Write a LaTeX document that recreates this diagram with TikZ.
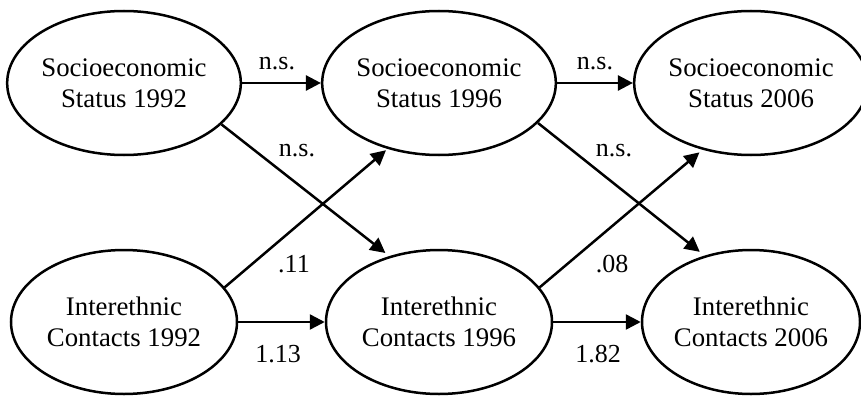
\documentclass[tikz,border=0pt]{standalone}
\usepackage{fontspec}
\setmainfont{Liberation Serif}
\usetikzlibrary{shapes.geometric,arrows.meta}

\tikzset{
  var/.style={ellipse, draw, line width=2.5pt, inner sep=0pt,
    minimum width=226pt, minimum height=144pt, align=center,
    font=\fontsize{26.8}{31}\selectfont},
  varnarrow/.style={var, minimum width=218pt},
  path/.style={line width=2.5pt, -{Triangle[length=15pt,width=15pt]}},
  coef/.style={anchor=base, inner sep=0pt, font=\fontsize{26}{30}\selectfont}
}

\begin{document}
\begin{tikzpicture}[x=1pt, y=-1pt]
  \useasboundingbox (0,0) rectangle (861,396);

  % latent variables: socioeconomic status (top row), interethnic contacts (bottom row)
  \node[var]       (s92) at (124,83)  {Socioeconomic\\Status 1992};
  \node[var]       (s96) at (439,83)  {Socioeconomic\\Status 1996};
  \node[varnarrow] (s06) at (751,83)  {Socioeconomic\\Status 2006};
  \node[var]       (c92) at (124,322) {Interethnic\\Contacts 1992};
  \node[var]       (c96) at (439,322) {Interethnic\\Contacts 1996};
  \node[varnarrow] (c06) at (751,322) {Interethnic\\Contacts 2006};

  % stability paths
  \draw[path] (s92.east) -- (s96.west);
  \draw[path] (s96.east) -- (s06.west);
  \draw[path] (c92.east) -- (c96.west);
  \draw[path] (c96.east) -- (c06.west);

  % cross-lagged paths
  \draw[path, shorten >=5pt] (s92.-23) -- (c96.127.6);
  \draw[path, shorten >=2pt] (c92.19.3) -- (s96.-128.9);
  \draw[path, shorten >=6pt] (s96.-22.6) -- (c06.125.7);
  \draw[path, shorten >=4pt] (c96.19) -- (s06.-126.5);

  % path coefficients
  \node[coef] (k1) at (277,70)  {n.s.};
  \node[coef] (k2) at (595,70)  {n.s.};
  \node[coef] (k3) at (297,156) {n.s.};
  \node[coef] (k4) at (614,156) {n.s.};
  \node[coef] (k5) at (294,272) {.11};
  \node[coef] (k6) at (612,272) {.08};
  \node[coef] (k7) at (278,362) {1.13};
  \node[coef] (k8) at (598,362) {1.82};
\end{tikzpicture}
\end{document}
